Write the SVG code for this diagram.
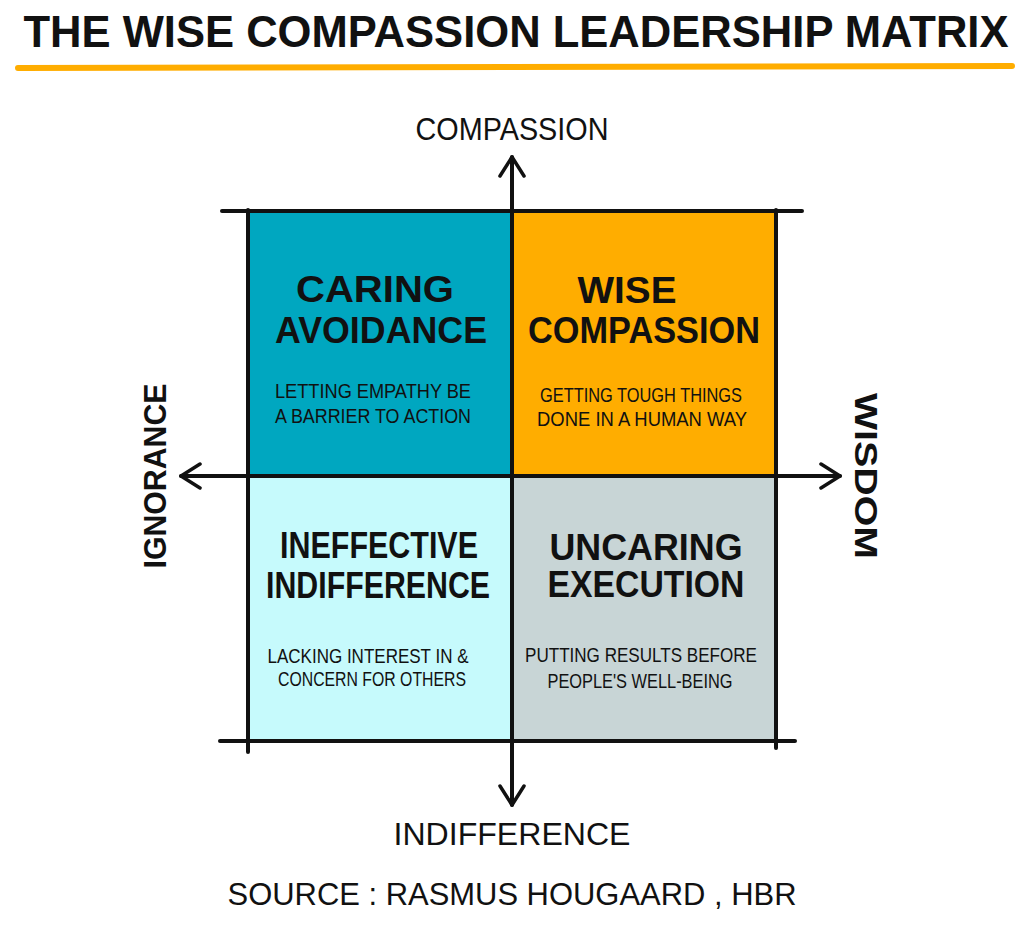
<svg xmlns="http://www.w3.org/2000/svg" width="1024" height="925" viewBox="0 0 1024 925">
<style>
.t{font-family:"Liberation Sans Narrow","Liberation Sans",Arial,sans-serif;font-weight:bold;fill:#111;text-anchor:middle}
.h{font-size:36px}
.s{font-family:"Liberation Sans Narrow","Liberation Sans",Arial,sans-serif;font-size:21px;fill:#111;text-anchor:middle}
.ax{font-family:"Liberation Sans Narrow","Liberation Sans",Arial,sans-serif;font-size:32px;fill:#111;text-anchor:middle}
.ln{stroke:#111;stroke-width:4;stroke-linecap:round;fill:none}
</style>
<defs>
<marker id="arr" viewBox="0 0 24 28" refX="22" refY="14" markerWidth="24" markerHeight="28" orient="auto-start-reverse" markerUnits="userSpaceOnUse">
<path d="M3,2 L22,14 L3,26" fill="none" stroke="#111" stroke-width="3.5" stroke-linecap="round" stroke-linejoin="round"/>
</marker>
</defs>
<rect width="1024" height="925" fill="#fff"/>
<g id="title">
<text x="516" y="47" class="t" font-size="44" textLength="985" lengthAdjust="spacingAndGlyphs">THE WISE COMPASSION  LEADERSHIP MATRIX</text>
<line x1="18" y1="68" x2="1012" y2="66" stroke="#FFAD00" stroke-width="6" stroke-linecap="round"/>
</g>
<g id="q-caring-avoidance">
<rect x="248" y="211" width="264" height="265" fill="#00A7C0"/>
<text x="375" y="302" class="t h" textLength="158" lengthAdjust="spacingAndGlyphs">CARING</text>
<text x="381" y="343" class="t h" textLength="212" lengthAdjust="spacingAndGlyphs">AVOIDANCE</text>
<text x="373" y="398" class="s" textLength="196" lengthAdjust="spacingAndGlyphs">LETTING EMPATHY BE</text>
<text x="373" y="423" class="s" textLength="196" lengthAdjust="spacingAndGlyphs">A BARRIER TO ACTION</text>
</g>
<g id="q-wise-compassion">
<rect x="512" y="211" width="264" height="265" fill="#FFAD00"/>
<text x="627" y="303" class="t h" textLength="99" lengthAdjust="spacingAndGlyphs">WISE</text>
<text x="644" y="343" class="t h" textLength="232" lengthAdjust="spacingAndGlyphs">COMPASSION</text>
<text x="641" y="402" class="s" textLength="202" lengthAdjust="spacingAndGlyphs">GETTING TOUGH THINGS</text>
<text x="642" y="426" class="s" textLength="210" lengthAdjust="spacingAndGlyphs">DONE IN A HUMAN WAY</text>
</g>
<g id="q-ineffective-indifference">
<rect x="248" y="476" width="264" height="265" fill="#C6FAFC"/>
<text x="379" y="558" class="t h" textLength="198" lengthAdjust="spacingAndGlyphs">INEFFECTIVE</text>
<text x="378" y="598" class="t h" textLength="224" lengthAdjust="spacingAndGlyphs">INDIFFERENCE</text>
<text x="368" y="663" class="s" textLength="201" lengthAdjust="spacingAndGlyphs">LACKING INTEREST IN &amp;</text>
<text x="372" y="686" class="s" textLength="188" lengthAdjust="spacingAndGlyphs">CONCERN FOR OTHERS</text>
</g>
<g id="q-uncaring-execution">
<rect x="512" y="476" width="264" height="265" fill="#C8D5D6"/>
<text x="646" y="560" class="t h" textLength="193" lengthAdjust="spacingAndGlyphs">UNCARING</text>
<text x="646" y="597" class="t h" textLength="197" lengthAdjust="spacingAndGlyphs">EXECUTION</text>
<text x="641" y="662" class="s" textLength="232" lengthAdjust="spacingAndGlyphs">PUTTING RESULTS BEFORE</text>
<text x="640" y="688" class="s" textLength="185" lengthAdjust="spacingAndGlyphs">PEOPLE'S WELL-BEING</text>
</g>
<g id="connectors">
<line class="ln" x1="222" y1="211" x2="802" y2="211"/>
<line class="ln" x1="220" y1="741" x2="795" y2="741"/>
<line class="ln" x1="248" y1="210" x2="248" y2="752"/>
<line class="ln" x1="776" y1="210" x2="776" y2="748"/>
<line class="ln" x1="512" y1="157" x2="512" y2="805" marker-start="url(#arr)" marker-end="url(#arr)"/>
<line class="ln" x1="181" y1="476" x2="840" y2="476" marker-start="url(#arr)" marker-end="url(#arr)"/>
</g>
<g id="axis-labels">
<text x="512" y="140" class="ax" textLength="193" lengthAdjust="spacingAndGlyphs">COMPASSION</text>
<text x="512" y="845" class="ax" textLength="237" lengthAdjust="spacingAndGlyphs">INDIFFERENCE</text>
<text transform="translate(166,476) rotate(-90)" x="0" y="0" class="ax" font-weight="bold" textLength="185" lengthAdjust="spacingAndGlyphs">IGNORANCE</text>
<text transform="translate(855,476) rotate(90)" x="0" y="0" class="ax" font-weight="bold" textLength="166" lengthAdjust="spacingAndGlyphs">WISDOM</text>
<text x="512" y="905" class="ax" font-size="28" textLength="569" lengthAdjust="spacingAndGlyphs">SOURCE : RASMUS HOUGAARD , HBR</text>
</g>
</svg>
